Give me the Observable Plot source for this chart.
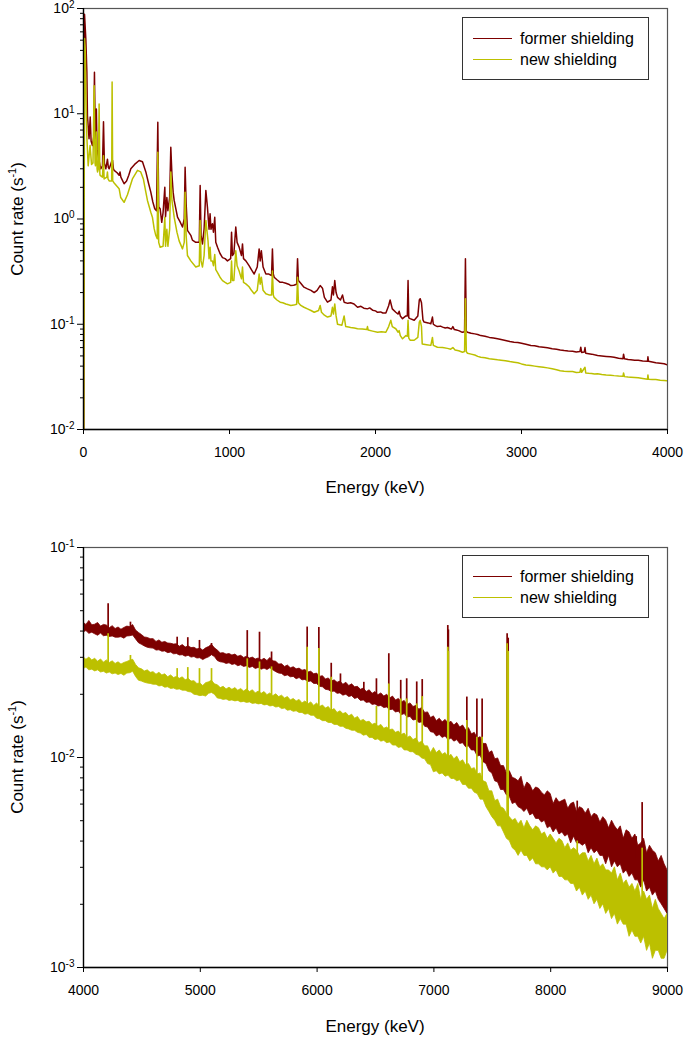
<!DOCTYPE html>
<html><head><meta charset="utf-8">
<script src="https://cdn.jsdelivr.net/npm/d3@7"></script>
<script src="https://cdn.jsdelivr.net/npm/@observablehq/plot@0.6"></script>
<style>
body{margin:0;background:#fff;font-family:"Liberation Sans",Arial,sans-serif;}
#wrap{position:relative;width:685px;height:1038px;overflow:hidden;}
.panel{position:absolute;left:0;}
.panel svg{overflow:visible;}
.ytitle{position:absolute;transform:translate(-50%,-50%) rotate(-90deg);font-size:17px;white-space:nowrap;color:#000;}
.ytitle sup{font-size:11px;}
.xtitle{position:absolute;transform:translate(-50%,-50%);font-size:17px;white-space:nowrap;color:#000;}
.legend{position:absolute;border:1px solid #333;background:#fff;box-sizing:border-box;}
.legend .row{position:absolute;left:0;font-size:16px;height:20px;line-height:20px;white-space:nowrap;}
.legend .sw{position:absolute;left:10px;top:9px;width:39px;height:0;border-top:1.5px solid;}
.legend .lb{position:absolute;left:57px;top:0;}
</style>
</head><body>
<div id="wrap"></div>
<script>
const RED = "#7d0000";
const YEL = "#bcc000";
const seriesNames = ["former shielding", "new shielding"];

// ---------- Top panel (0–4000 keV): [energy keV, count rate s^-1] ----------
const topFormer = [
[2,0.01],[7,88],[16,51],[23,25],[27,9.6],[38,5.8],[46,9.3],[52,5.5],[61,5.0],[70,6],[75,24.8],[81,5.2],[84,5.0],[88,11.1],[93,4.5],[100,4.0],[110,3.4],[118,3.0],[130,3.2],[137,8.4],[143,3.4],[153,3.0],[164,3.7],[170,3.1],[176,3.0],[186,3.3],[192,3.5],[199,3.6],[205,3.0],[210,2.9],[230,2.75],[244,2.6],[250,2.8],[256,2.5],[278,2.16],[295,2.3],[310,2.6],[324,3.0],[350,3.3],[381,3.6],[404,3.5],[427,2.8],[445,2.2],[461,1.8],[475,1.45],[488,1.25],[500,1.2],[509,8.3],[515,1.3],[525,1.25],[536,0.93],[545,1.15],[557,2.0],[562,1.05],[571,1.6],[578,1.2],[590,1.6],[598,4.8],[606,2.6],[614,1.8],[621,1.5],[644,1.04],[660,0.95],[678,0.84],[690,1.0],[696,3.1],[703,1.4],[712,0.78],[735,0.70],[746,0.63],[769,0.60],[793,0.6],[799,2.08],[805,0.7],[815,0.58],[826,0.8],[838,1.87],[849,1.29],[860,0.8],[867,1.12],[873,0.8],[883,0.90],[890,0.75],[899,1.04],[906,0.6],[918,0.54],[935,0.47],[952,0.43],[970,0.42],[986,0.40],[1008,0.42],[1014,0.75],[1020,0.45],[1030,0.47],[1043,0.84],[1052,0.6],[1066,0.54],[1082,0.45],[1089,0.58],[1096,0.42],[1112,0.40],[1134,0.36],[1150,0.33],[1169,0.30],[1190,0.35],[1203,0.52],[1210,0.4],[1218,0.50],[1230,0.35],[1249,0.30],[1270,0.3],[1288,0.29],[1294,0.52],[1300,0.3],[1306,0.28],[1325,0.265],[1347,0.25],[1365,0.25],[1386,0.245],[1405,0.24],[1420,0.233],[1440,0.235],[1460,0.24],[1466,0.42],[1472,0.26],[1488,0.245],[1510,0.225],[1534,0.217],[1558,0.21],[1580,0.20],[1600,0.21],[1621,0.233],[1637,0.22],[1650,0.18],[1671,0.162],[1695,0.17],[1705,0.227],[1712,0.19],[1721,0.26],[1730,0.2],[1740,0.18],[1760,0.17],[1774,0.19],[1785,0.162],[1810,0.158],[1830,0.16],[1853,0.156],[1877,0.145],[1900,0.148],[1920,0.142],[1945,0.14],[1960,0.143],[1980,0.136],[2000,0.134],[2014,0.13],[2035,0.131],[2050,0.128],[2071,0.128],[2090,0.15],[2100,0.17],[2115,0.14],[2139,0.13],[2155,0.125],[2162,0.133],[2170,0.12],[2185,0.113],[2208,0.12],[2218,0.12],[2223,0.26],[2228,0.115],[2237,0.113],[2265,0.109],[2290,0.12],[2300,0.17],[2306,0.175],[2315,0.16],[2325,0.11],[2333,0.105],[2360,0.103],[2379,0.101],[2390,0.117],[2396,0.1],[2410,0.097],[2424,0.095],[2445,0.096],[2460,0.094],[2478,0.092],[2493,0.093],[2510,0.091],[2520,0.09],[2530,0.095],[2540,0.089],[2555,0.088],[2570,0.087],[2585,0.085],[2596,0.084],[2610,0.085],[2616,0.42],[2622,0.086],[2630,0.084],[2655,0.082],[2680,0.081],[2700,0.08],[2721,0.078],[2750,0.077],[2780,0.075],[2808,0.074],[2836,0.0727],[2860,0.0715],[2890,0.070],[2920,0.0685],[2949,0.0676],[2975,0.067],[3000,0.066],[3030,0.0645],[3064,0.0629],[3090,0.0625],[3120,0.061],[3150,0.0605],[3178,0.0597],[3210,0.0585],[3240,0.058],[3265,0.057],[3292,0.0563],[3320,0.0558],[3350,0.0555],[3375,0.0545],[3400,0.055],[3406,0.0605],[3412,0.054],[3430,0.0545],[3435,0.06],[3440,0.053],[3460,0.0525],[3480,0.052],[3500,0.0512],[3521,0.0505],[3550,0.050],[3580,0.0495],[3610,0.049],[3634,0.0486],[3665,0.0475],[3695,0.047],[3699,0.052],[3705,0.047],[3730,0.0462],[3749,0.0459],[3775,0.0455],[3800,0.0455],[3830,0.0448],[3863,0.0445],[3866,0.049],[3870,0.0445],[3895,0.0438],[3920,0.043],[3950,0.0425],[3977,0.0421],[4000,0.041]
];
const topNew = [
[2,0.01],[7,52],[12,40],[16,17.3],[23,6],[32,3.2],[45,5.0],[55,3.3],[65,3.4],[73,18.5],[79,3.4],[82,3.2],[89,6.7],[93,3.0],[96,2.8],[102,3.0],[107,12.4],[112,2.7],[114,2.6],[130,2.5],[137,4.0],[141,2.4],[160,2.5],[164,2.8],[168,2.4],[176,2.3],[193,2.3],[196,20],[200,2.3],[210,2.2],[244,1.94],[255,1.6],[278,1.44],[301,1.7],[335,2.4],[370,2.9],[392,2.8],[410,2.4],[427,1.8],[438,1.5],[461,1.16],[472,1.04],[484,0.81],[495,0.70],[505,0.65],[509,4.3],[515,0.6],[525,0.54],[545,0.55],[557,1.04],[562,0.55],[571,0.8],[578,0.55],[590,0.8],[598,2.8],[606,1.5],[621,1.04],[640,0.75],[655,0.62],[678,0.52],[690,0.6],[696,1.8],[703,0.7],[712,0.45],[735,0.40],[769,0.35],[793,0.36],[799,0.97],[805,0.4],[815,0.35],[826,0.45],[838,0.97],[853,0.62],[860,0.42],[867,0.54],[873,0.4],[883,0.40],[890,0.36],[899,0.46],[906,0.33],[918,0.31],[935,0.28],[952,0.26],[970,0.25],[986,0.242],[1008,0.25],[1014,0.40],[1020,0.26],[1030,0.26],[1043,0.50],[1052,0.36],[1066,0.32],[1082,0.27],[1089,0.35],[1096,0.25],[1112,0.242],[1134,0.227],[1150,0.21],[1169,0.195],[1190,0.21],[1203,0.30],[1210,0.24],[1218,0.28],[1230,0.21],[1249,0.195],[1270,0.19],[1288,0.19],[1294,0.32],[1300,0.19],[1306,0.18],[1325,0.17],[1347,0.162],[1365,0.16],[1386,0.156],[1405,0.153],[1420,0.151],[1440,0.152],[1460,0.155],[1466,0.28],[1472,0.16],[1488,0.151],[1510,0.145],[1534,0.14],[1558,0.135],[1580,0.13],[1610,0.135],[1621,0.151],[1630,0.13],[1650,0.122],[1671,0.117],[1695,0.12],[1705,0.145],[1712,0.125],[1721,0.156],[1730,0.12],[1740,0.10],[1770,0.098],[1785,0.12],[1796,0.095],[1815,0.094],[1830,0.093],[1855,0.092],[1877,0.0906],[1910,0.09],[1940,0.089],[1945,0.095],[1950,0.088],[1980,0.086],[2014,0.084],[2040,0.085],[2071,0.084],[2090,0.095],[2105,0.109],[2115,0.095],[2139,0.0906],[2155,0.084],[2162,0.087],[2170,0.078],[2185,0.0727],[2208,0.078],[2218,0.077],[2223,0.109],[2228,0.074],[2237,0.0705],[2265,0.0705],[2290,0.075],[2300,0.105],[2306,0.109],[2315,0.095],[2320,0.065],[2350,0.064],[2379,0.063],[2390,0.075],[2396,0.063],[2424,0.0605],[2460,0.06],[2493,0.059],[2515,0.058],[2530,0.06],[2545,0.057],[2570,0.056],[2596,0.0542],[2610,0.055],[2616,0.175],[2622,0.055],[2630,0.053],[2655,0.052],[2680,0.051],[2700,0.0495],[2721,0.0486],[2750,0.048],[2780,0.047],[2808,0.0465],[2836,0.0459],[2860,0.0455],[2890,0.045],[2920,0.0442],[2949,0.0436],[2975,0.043],[3000,0.042],[3030,0.041],[3064,0.0405],[3090,0.040],[3120,0.0395],[3150,0.039],[3178,0.0385],[3210,0.0378],[3240,0.037],[3265,0.0362],[3292,0.0358],[3320,0.0356],[3350,0.0355],[3375,0.0348],[3400,0.035],[3406,0.038],[3412,0.035],[3435,0.039],[3440,0.0345],[3460,0.0342],[3480,0.034],[3500,0.0336],[3521,0.0338],[3550,0.0333],[3580,0.033],[3610,0.0328],[3634,0.0325],[3665,0.0322],[3695,0.032],[3699,0.0345],[3705,0.0318],[3730,0.0315],[3749,0.0314],[3775,0.0312],[3800,0.031],[3830,0.0305],[3863,0.030],[3866,0.033],[3870,0.030],[3895,0.0299],[3920,0.0298],[3950,0.0294],[3977,0.0292],[4000,0.029]
];

// ---------- Bottom panel (4000–9000 keV): upper / lower edge of the noisy band, channel grid every 25 keV ----------
const bottomEnergy = d3.range(4000, 9001, 25);
const bottomFormerHigh = [
.0438,.0428,.0447,.0426, .0429,.0437,.0420,.0428, .0425,.0413,.0422,.0409, .0416,.0406,.0414,.0420,
.0418,.0427,.0402,.0392, .0383,.0373,.0371,.0366, .0366,.0355,.0361,.0352, .0355,.0349,.0348,.0345,
.0346,.0337,.0343,.0334, .0338,.0332,.0333,.0327, .0330,.0323,.0331,.0336, .0344,.0331,.0323,.0313,
.0314,.0309,.0311,.0306, .0309,.0302,.0305,.0298, .0302,.0296,.0299,.0293, .0296,.0290,.0295,.0288,
.0298,.0287,.0286,.0277, .0278,.0270,.0274,.0266, .0269,.0263,.0265,.0259, .0261,.0254,.0256,.0249,
.0251,.0242,.0244,.0235, .0238,.0230,.0233,.0227, .0230,.0222,.0227,.0219, .0223,.0216,.0217,.0210,
.0213,.0205,.0209,.0201, .0205,.0198,.0202,.0195, .0199,.0191,.0195,.0187, .0190,.0183,.0186,.0178,
.0181,.0174,.0176,.0169, .0172,.0163,.0164,.0154, .0157,.0149,.0153,.0147, .0151,.0145,.0148,.0142,
.0146,.0139,.0142,.0135, .0138,.0129,.0131,.0123, .0125,.0116,.0116,.0105, .0107,.0098,.0099,.0091,
.0091,.0084,.0086,.0080, .0079,.0077,.0081,.0071, .0076,.0074,.0069,.0072, .0071,.0068,.0066,.0069,
.0067,.0060,.0064,.0061, .0062,.0063,.0057,.0060, .0061,.0055,.0058,.0057, .0054,.0057,.0052,.0054,
.0053,.0049,.0052,.0050, .0046,.0050,.0047,.0045, .0047,.0041,.0045,.0044, .0041,.0043,.0038,.0039,
.0041,.0035,.0038,.0036, .0035,.0032,.0034,.0031, .0029
];
const bottomFormerLow = [
.0394,.0400,.0388,.0393, .0386,.0380,.0389,.0378, .0380,.0375,.0377,.0372, .0372,.0374,.0368,.0377,
.0378,.0381,.0365,.0350, .0344,.0338,.0333,.0331, .0330,.0323,.0324,.0319, .0320,.0314,.0316,.0310,
.0311,.0306,.0307,.0302, .0305,.0299,.0301,.0296, .0297,.0291,.0296,.0300, .0307,.0301,.0288,.0284,
.0283,.0279,.0281,.0276, .0278,.0272,.0275,.0270, .0272,.0267,.0270,.0264, .0267,.0262,.0265,.0261,
.0266,.0260,.0255,.0251, .0250,.0244,.0246,.0241, .0242,.0236,.0239,.0233, .0234,.0229,.0230,.0224,
.0224,.0217,.0216,.0210, .0209,.0205,.0206,.0201, .0202,.0197,.0199,.0194, .0196,.0190,.0192,.0186,
.0187,.0182,.0183,.0178, .0179,.0175,.0176,.0172, .0173,.0168,.0169,.0164, .0165,.0159,.0161,.0155,
.0156,.0150,.0151,.0146, .0147,.0140,.0139,.0132, .0131,.0126,.0128,.0124, .0126,.0121,.0123,.0119,
.0121,.0116,.0117,.0112, .0113,.0108,.0108,.0101, .0102,.0095,.0093,.0086, .0084,.0077,.0076,.0070,
.0070,.0066,.0065,.0060, .0061,.0058,.0057,.0055, .0057,.0053,.0054,.0051, .0051,.0049,.0050,.0046,
.0047,.0044,.0046,.0043, .0044,.0042,.0043,.0039, .0042,.0039,.0039,.0038, .0039,.0035,.0037,.0035,
.0036,.0034,.0034,.0031, .0034,.0030,.0032,.0030, .0031,.0028,.0029,.0027, .0028,.0026,.0026,.0024,
.0026,.0023,.0024,.0022, .0023,.0021,.0020,.0019, .0018
];
const bottomNewHigh = [
.0300,.0292,.0299,.0290, .0295,.0286,.0293,.0283, .0290,.0282,.0287,.0279, .0284,.0277,.0282,.0285,
.0289,.0292,.0276,.0266, .0263,.0257,.0260,.0253, .0255,.0248,.0253,.0246, .0249,.0241,.0246,.0239,
.0242,.0237,.0241,.0233, .0237,.0230,.0231,.0224, .0225,.0219,.0226,.0228, .0232,.0223,.0221,.0214,
.0217,.0211,.0215,.0210, .0214,.0208,.0212,.0206, .0211,.0205,.0209,.0202, .0206,.0201,.0205,.0198,
.0202,.0196,.0200,.0194, .0197,.0191,.0194,.0187, .0190,.0185,.0188,.0181, .0185,.0179,.0183,.0176,
.0181,.0174,.0177,.0171, .0174,.0167,.0170,.0163, .0166,.0161,.0163,.0157, .0160,.0153,.0156,.0149,
.0151,.0147,.0148,.0143, .0145,.0140,.0143,.0137, .0139,.0135,.0136,.0131, .0133,.0128,.0130,.0124,
.0126,.0121,.0123,.0117, .0119,.0113,.0113,.0105, .0111,.0105,.0108,.0103, .0105,.0100,.0103,.0098,
.0101,.0095,.0097,.0092, .0093,.0088,.0089,.0083, .0084,.0077,.0076,.0069, .0069,.0062,.0063,.0058,
.0057,.0054,.0052,.0050, .0051,.0048,.0050,.0046, .0050,.0047,.0045,.0047, .0046,.0043,.0044,.0041,
.0043,.0041,.0039,.0041, .0040,.0037,.0039,.0036, .0037,.0036,.0034,.0035, .0035,.0032,.0034,.0031,
.0033,.0030,.0031,.0029, .0029,.0028,.0030,.0026, .0028,.0025,.0026,.0024, .0025,.0023,.0025,.0021,
.0023,.0021,.0022,.0019, .0021,.0019,.0018,.0017, .0018
];
const bottomNewLow = [
.0264,.0268,.0260,.0262, .0257,.0260,.0254,.0256, .0251,.0254,.0249,.0251, .0247,.0250,.0245,.0251,
.0252,.0256,.0242,.0232, .0230,.0227,.0225,.0224, .0222,.0222,.0218,.0219, .0215,.0216,.0212,.0213,
.0210,.0211,.0208,.0208, .0205,.0204,.0199,.0198, .0196,.0197,.0195,.0201, .0203,.0199,.0191,.0190,
.0188,.0189,.0186,.0187, .0185,.0186,.0183,.0184, .0182,.0183,.0180,.0181, .0179,.0180,.0177,.0178,
.0175,.0176,.0173,.0174, .0170,.0171,.0167,.0168, .0165,.0166,.0163,.0163, .0160,.0161,.0158,.0158,
.0153,.0152,.0149,.0149, .0146,.0146,.0143,.0143, .0140,.0140,.0137,.0136, .0134,.0134,.0131,.0130,
.0127,.0128,.0124,.0124, .0121,.0122,.0119,.0120, .0117,.0118,.0114,.0114, .0111,.0112,.0108,.0108,
.0106,.0106,.0103,.0102, .0099,.0098,.0093,.0092, .0085,.0086,.0083,.0084, .0081,.0082,.0079,.0079,
.0077,.0078,.0074,.0074, .0071,.0071,.0068,.0067, .0063,.0063,.0058,.0055, .0052,.0050,.0047,.0047,
.0044,.0041,.0040,.0037, .0036,.0034,.0036,.0034, .0034,.0032,.0033,.0031, .0031,.0030,.0030,.0029,
.0030,.0028,.0029,.0027, .0027,.0026,.0026,.0025, .0025,.0023,.0024,.0022, .0023,.0021,.0022,.0020,
.0021,.0019,.0020,.0018, .0019,.0017,.0018,.0016, .0017,.0016,.0016,.0014, .0015,.0014,.0014,.0013,
.0014,.0012,.0013,.0011, .0012,.0012,.0011,.0011, .0012
];
// narrow gamma lines in the bottom panel: [energy keV, band level, peak top]
const bottomFormerPeaks = [[4211,.040,.0539],[4402,.039,.0441],[4802,.0327,.0374],[4893,.032,.0372],[4993,.0312,.0361],[5096,.0325,.0349],[5402,.0285,.0402],[5507,.028,.0395],[5610,.0276,.0318],[5915,.0245,.0418],[6015,.0234,.0416],[6121,.0221,.0281],[6200,.0214,.0250],[6400,.0198,.0228],[6508,.019,.0237],[6614,.0183,.0312],[6716,.0175,.0233],[6767,.0171,.0237],[6853,.0163,.0229],[6900,.0158,.0235],[7119,.0136,.0425],[7124,.0136,.0405],[7282,.0126,.0194],[7368,.0117,.0190],[7413,.011,.0190],[7627,.0076,.0388],[7636,.0075,.0370],[8227,.0049,.0062],[8732,.0033,.0042],[8783,.0031,.0061]];
const bottomNewPeaks = [[4211,.027,.0388],[4402,.0265,.0306],[4802,.0226,.0265],[4893,.0221,.0268],[4993,.021,.0265],[5096,.0216,.0265],[5402,.0196,.0295],[5507,.0192,.0285],[5610,.0188,.0270],[5915,.0172,.0335],[6015,.0166,.0330],[6121,.0159,.0241],[6508,.0133,.0175],[6614,.0128,.0224],[6716,.0122,.0190],[6767,.0119,.0190],[6853,.0113,.0180],[6900,.0109,.0195],[7119,.0093,.0335],[7124,.0093,.0320],[7282,.0084,.0150],[7368,.0078,.0125],[7413,.0072,.0125],[7627,.0049,.0348],[7636,.0048,.0320],[8227,.003,.0040],[8783,.0018,.0037]];

const xTicksTop = [0, 1000, 2000, 3000, 4000];
const xTicksBottom = [4000, 5000, 6000, 7000, 8000, 9000];
const yMajorTop = [1e-2, 1e-1, 1, 10, 100];
const yMajorBottom = [1e-3, 1e-2, 1e-1];

[bottomFormerHigh, bottomFormerLow, bottomNewHigh, bottomNewLow].forEach((a, i) => {
  if (a.length !== bottomEnergy.length) console.error("length mismatch", i, a.length, bottomEnergy.length);
});

function toRows(pairs){ return pairs.map(([E,v]) => ({E, v})); }
function bandRows(hi, lo){ return bottomEnergy.map((E,i) => ({E, hi: hi[i], lo: lo[i]})); }
function peakRows(p){ return p.map(([E,base,top]) => ({E, base, top})); }
function minorTicks(major){
  const out = [];
  for (let i = 0; i < major.length - 1; i++) for (let k = 2; k <= 9; k++) out.push(major[i]*k);
  return out;
}

const NS = "http://www.w3.org/2000/svg";
function panel({dataMarks, xDomain, yDomain, xTicks, yMajor, height, marginTop, marginBottom}){
  const svg = Plot.plot({
    width: 685, height, marginLeft: 83, marginRight: 18, marginTop, marginBottom,
    x: {domain: xDomain},
    y: {type: "log", domain: yDomain},
    style: {fontFamily: "'Liberation Sans', Arial, sans-serif", fontSize: "14px", color: "#000", background: "#fff", overflow: "visible"},
    marks: [
      Plot.frame({stroke: "#555", strokeWidth: 1.2}),
      ...dataMarks,
      Plot.ruleX([xDomain[0]], {stroke: "#000", strokeWidth: 1.3}),
      Plot.ruleY([yDomain[0]], {stroke: "#000", strokeWidth: 1.3}),
      Plot.axisX({ticks: xTicks, tickSize: 5, tickPadding: 13, tickFormat: d => String(d), label: null, fontSize: 14}),
      Plot.axisY({ticks: yMajor, tickSize: 6, tickPadding: 3, tickFormat: d => String(Math.round(Math.log10(d))), label: null, fontSize: 14}),
      Plot.axisY({ticks: minorTicks(yMajor), tickSize: 3, tickFormat: () => "", label: null})
    ]
  });
  svg.querySelectorAll('g[aria-label="y-axis tick label"] text').forEach(t => {
    const e = t.textContent;
    if (!e) return;
    t.textContent = "";
    const a = document.createElementNS(NS, "tspan"); a.textContent = "10";
    const b = document.createElementNS(NS, "tspan"); b.textContent = e;
    b.setAttribute("dy", "-0.5em"); b.setAttribute("font-size", "10px");
    t.append(a, b);
  });
  return svg;
}

const wrap = document.getElementById("wrap");
function place(el, top){ const d = document.createElement("div"); d.className = "panel"; d.style.top = top + "px"; d.appendChild(el); wrap.appendChild(d); }

place(panel({
  dataMarks: [
    Plot.line(toRows(topFormer), {x: "E", y: "v", stroke: RED, strokeWidth: 1.5, clip: true}),
    Plot.line(toRows(topNew), {x: "E", y: "v", stroke: YEL, strokeWidth: 1.5, clip: true})
  ],
  xDomain: [0, 4000], yDomain: [1e-2, 1e2], xTicks: xTicksTop, yMajor: yMajorTop, height: 500, marginTop: 8, marginBottom: 71}), 0);

place(panel({
  dataMarks: [
    Plot.areaY(bandRows(bottomFormerHigh, bottomFormerLow), {x: "E", y1: "lo", y2: "hi", fill: RED, stroke: RED, strokeWidth: 0.8, clip: true}),
    Plot.ruleX(peakRows(bottomFormerPeaks), {x: "E", y1: "base", y2: "top", stroke: RED, strokeWidth: 1.7, clip: true}),
    Plot.areaY(bandRows(bottomNewHigh, bottomNewLow), {x: "E", y1: "lo", y2: "hi", fill: YEL, stroke: YEL, strokeWidth: 0.8, clip: true}),
    Plot.ruleX(peakRows(bottomNewPeaks), {x: "E", y1: "base", y2: "top", stroke: YEL, strokeWidth: 1.7, clip: true})
  ],
  xDomain: [4000, 9000], yDomain: [1e-3, 1e-1], xTicks: xTicksBottom, yMajor: yMajorBottom, height: 518, marginTop: 27, marginBottom: 71}), 520);

function html(cls, styleObj, inner){ const d = document.createElement("div"); d.className = cls; Object.assign(d.style, styleObj); d.innerHTML = inner; wrap.appendChild(d); return d; }
html("ytitle", {left: "17px", top: "219px"}, "Count rate (s<sup>-1</sup>)");
html("ytitle", {left: "17px", top: "757px"}, "Count rate (s<sup>-1</sup>)");
html("xtitle", {left: "375px", top: "488px"}, "Energy (keV)");
html("xtitle", {left: "375px", top: "1027px"}, "Energy (keV)");

function legend(top){
  const lg = html("legend", {left: "462px", top: top + "px", width: "187px", height: "63px"}, "");
  [RED, YEL].forEach((c, i) => {
    const r = document.createElement("div"); r.className = "row";
    r.style.top = (11 + i * 21) + "px"; r.style.width = "100%";
    r.innerHTML = `<span class="sw" style="border-color:${c}"></span><span class="lb">${seriesNames[i]}</span>`;
    lg.appendChild(r);
  });
}
legend(17);
legend(555);
</script>
</body></html>
